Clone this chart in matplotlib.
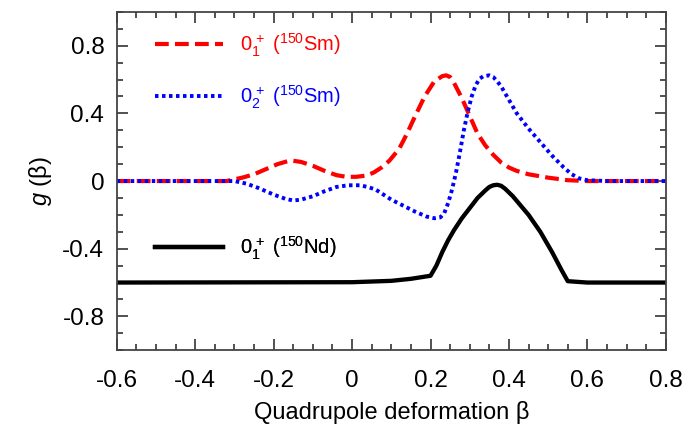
import matplotlib
matplotlib.use("Agg")
import matplotlib.pyplot as plt
from matplotlib.lines import Line2D
from matplotlib.ticker import MultipleLocator, FuncFormatter

# data
beta_sm1 = [-0.6, -0.4, -0.32, -0.28, -0.25, -0.22, -0.19, -0.165, -0.15, -0.13,
            -0.1, -0.07, -0.04, -0.015, 0.01, 0.035, 0.055, 0.075, 0.095, 0.12,
            0.14, 0.16, 0.185, 0.21, 0.23, 0.24, 0.25, 0.26, 0.28, 0.30, 0.32,
            0.34, 0.36, 0.38, 0.40, 0.42, 0.45, 0.5, 0.55, 0.6, 0.8]
g_sm1 = [0.0, 0.0, 0.0, 0.02, 0.04, 0.07, 0.1, 0.117, 0.12, 0.113,
         0.09, 0.06, 0.035, 0.025, 0.025, 0.032, 0.05, 0.08, 0.12, 0.19,
         0.28, 0.38, 0.50, 0.59, 0.62, 0.625, 0.615, 0.58, 0.49, 0.385, 0.28,
         0.21, 0.155, 0.11, 0.08, 0.06, 0.04, 0.02, 0.005, 0.0, 0.0]

beta_sm2 = [-0.6, -0.3, -0.27, -0.24, -0.2, -0.17, -0.15, -0.13, -0.1, -0.07,
            -0.04, -0.01, 0.02, 0.04, 0.06, 0.08, 0.1, 0.13, 0.16, 0.19, 0.21,
            0.225, 0.235, 0.245, 0.255, 0.265, 0.275, 0.285, 0.295, 0.305, 0.315,
            0.325, 0.335, 0.35, 0.36, 0.37, 0.38, 0.39, 0.405, 0.42, 0.45, 0.48,
            0.51, 0.54, 0.56, 0.58, 0.6, 0.65, 0.8]
g_sm2 = [0.0, 0.0, -0.015, -0.04, -0.08, -0.105, -0.115, -0.11, -0.09, -0.06,
         -0.035, -0.025, -0.025, -0.035, -0.05, -0.08, -0.11, -0.145, -0.18, -0.21, -0.22,
         -0.215, -0.19, -0.13, -0.05, 0.05, 0.17, 0.3, 0.41, 0.5, 0.565,
         0.605, 0.62, 0.625, 0.615, 0.59, 0.56, 0.52, 0.46, 0.40, 0.31, 0.23,
         0.15, 0.08, 0.04, 0.015, 0.005, 0.0, 0.0]

beta_nd = [-0.6, 0.0, 0.1, 0.15, 0.2, 0.215, 0.23, 0.245, 0.26, 0.28, 0.3, 0.32,
           0.34, 0.35, 0.36, 0.37, 0.38, 0.39, 0.41, 0.43, 0.45, 0.48, 0.51,
           0.535, 0.55, 0.6, 0.8]
g_nd = [-0.6, -0.598, -0.59, -0.578, -0.56, -0.5, -0.42, -0.35, -0.29, -0.22,
        -0.16, -0.1, -0.055, -0.035, -0.025, -0.022, -0.028, -0.045, -0.09, -0.145,
        -0.2, -0.3, -0.42, -0.53, -0.592, -0.6, -0.6]

labels = [r"$0_1^{\,+}$ ($^{150}$Sm)", r"$0_2^{\,+}$ ($^{150}$Sm)", r"$0_1^{\,+}$ ($^{150}$Nd)"]

plt.rcParams["font.family"] = ["Liberation Sans", "DejaVu Sans"]
plt.rcParams["mathtext.fontset"] = "custom"
plt.rcParams["mathtext.rm"] = "Liberation Sans"
plt.rcParams["mathtext.it"] = "Liberation Sans:italic"
plt.rcParams["axes.unicode_minus"] = False

fig = plt.figure(figsize=(6.95, 4.25), dpi=100)
ax = fig.add_axes([0.168, 0.176, 0.79, 0.796])

l1, = ax.plot(beta_sm1, g_sm1, color="#ff0000", lw=3.0, dashes=(3.3, 1.5))
l2, = ax.plot(beta_sm2, g_sm2, color="#0000ff", lw=2.8, dashes=(0.9, 0.9))
l3, = ax.plot(beta_nd, g_nd, color="black", lw=3.1)

ax.set_xlim(-0.6, 0.8)
ax.set_ylim(-1.0, 1.0)
ax.xaxis.set_major_locator(MultipleLocator(0.2))
ax.xaxis.set_minor_locator(MultipleLocator(0.05))
ax.yaxis.set_major_locator(MultipleLocator(0.4))
ax.yaxis.set_minor_locator(MultipleLocator(0.1))
fmt = FuncFormatter(lambda v, p: "0" if abs(v) < 1e-9 else "%g" % round(v, 2))
ax.xaxis.set_major_formatter(fmt)
ax.yaxis.set_major_formatter(fmt)
ax.tick_params(which="both", direction="in", top=True, right=True,
               color="#333333", width=1.2)
ax.tick_params(which="major", length=8, labelsize=17.5)
ax.tick_params(axis="x", which="major", pad=14)
ax.tick_params(axis="y", which="major", pad=9)
ax.tick_params(which="minor", length=4.5)
for s in ax.spines.values():
    s.set_color("#444444")
    s.set_linewidth(1.3)

ax.set_xlabel("Quadrupole deformation β", fontsize=17, labelpad=7)
ax.set_ylabel(r"$g$ (β)", fontsize=17, labelpad=6)

# one legend entry per curve, each placed next to its curve
dash_styles = [(3.3, 1.5), (0.9, 0.9), None]
for line, lab, dsh, ypos in zip([l1, l2, l3], labels, dash_styles, [0.902, 0.749, 0.302]):
    handle = Line2D([], [], color=line.get_color(), lw=line.get_linewidth())
    if dsh is not None:
        handle.set_dashes(dsh)
    leg = ax.legend(handles=[handle], labels=[lab], loc="center left",
                    bbox_to_anchor=(0.069, ypos), frameon=False, fontsize=14.5,
                    handlelength=3.4, handletextpad=0.85, labelcolor=line.get_color(),
                    borderaxespad=0, borderpad=0)
    ax.add_artist(leg)

fig.savefig("out.png", dpi=100)
